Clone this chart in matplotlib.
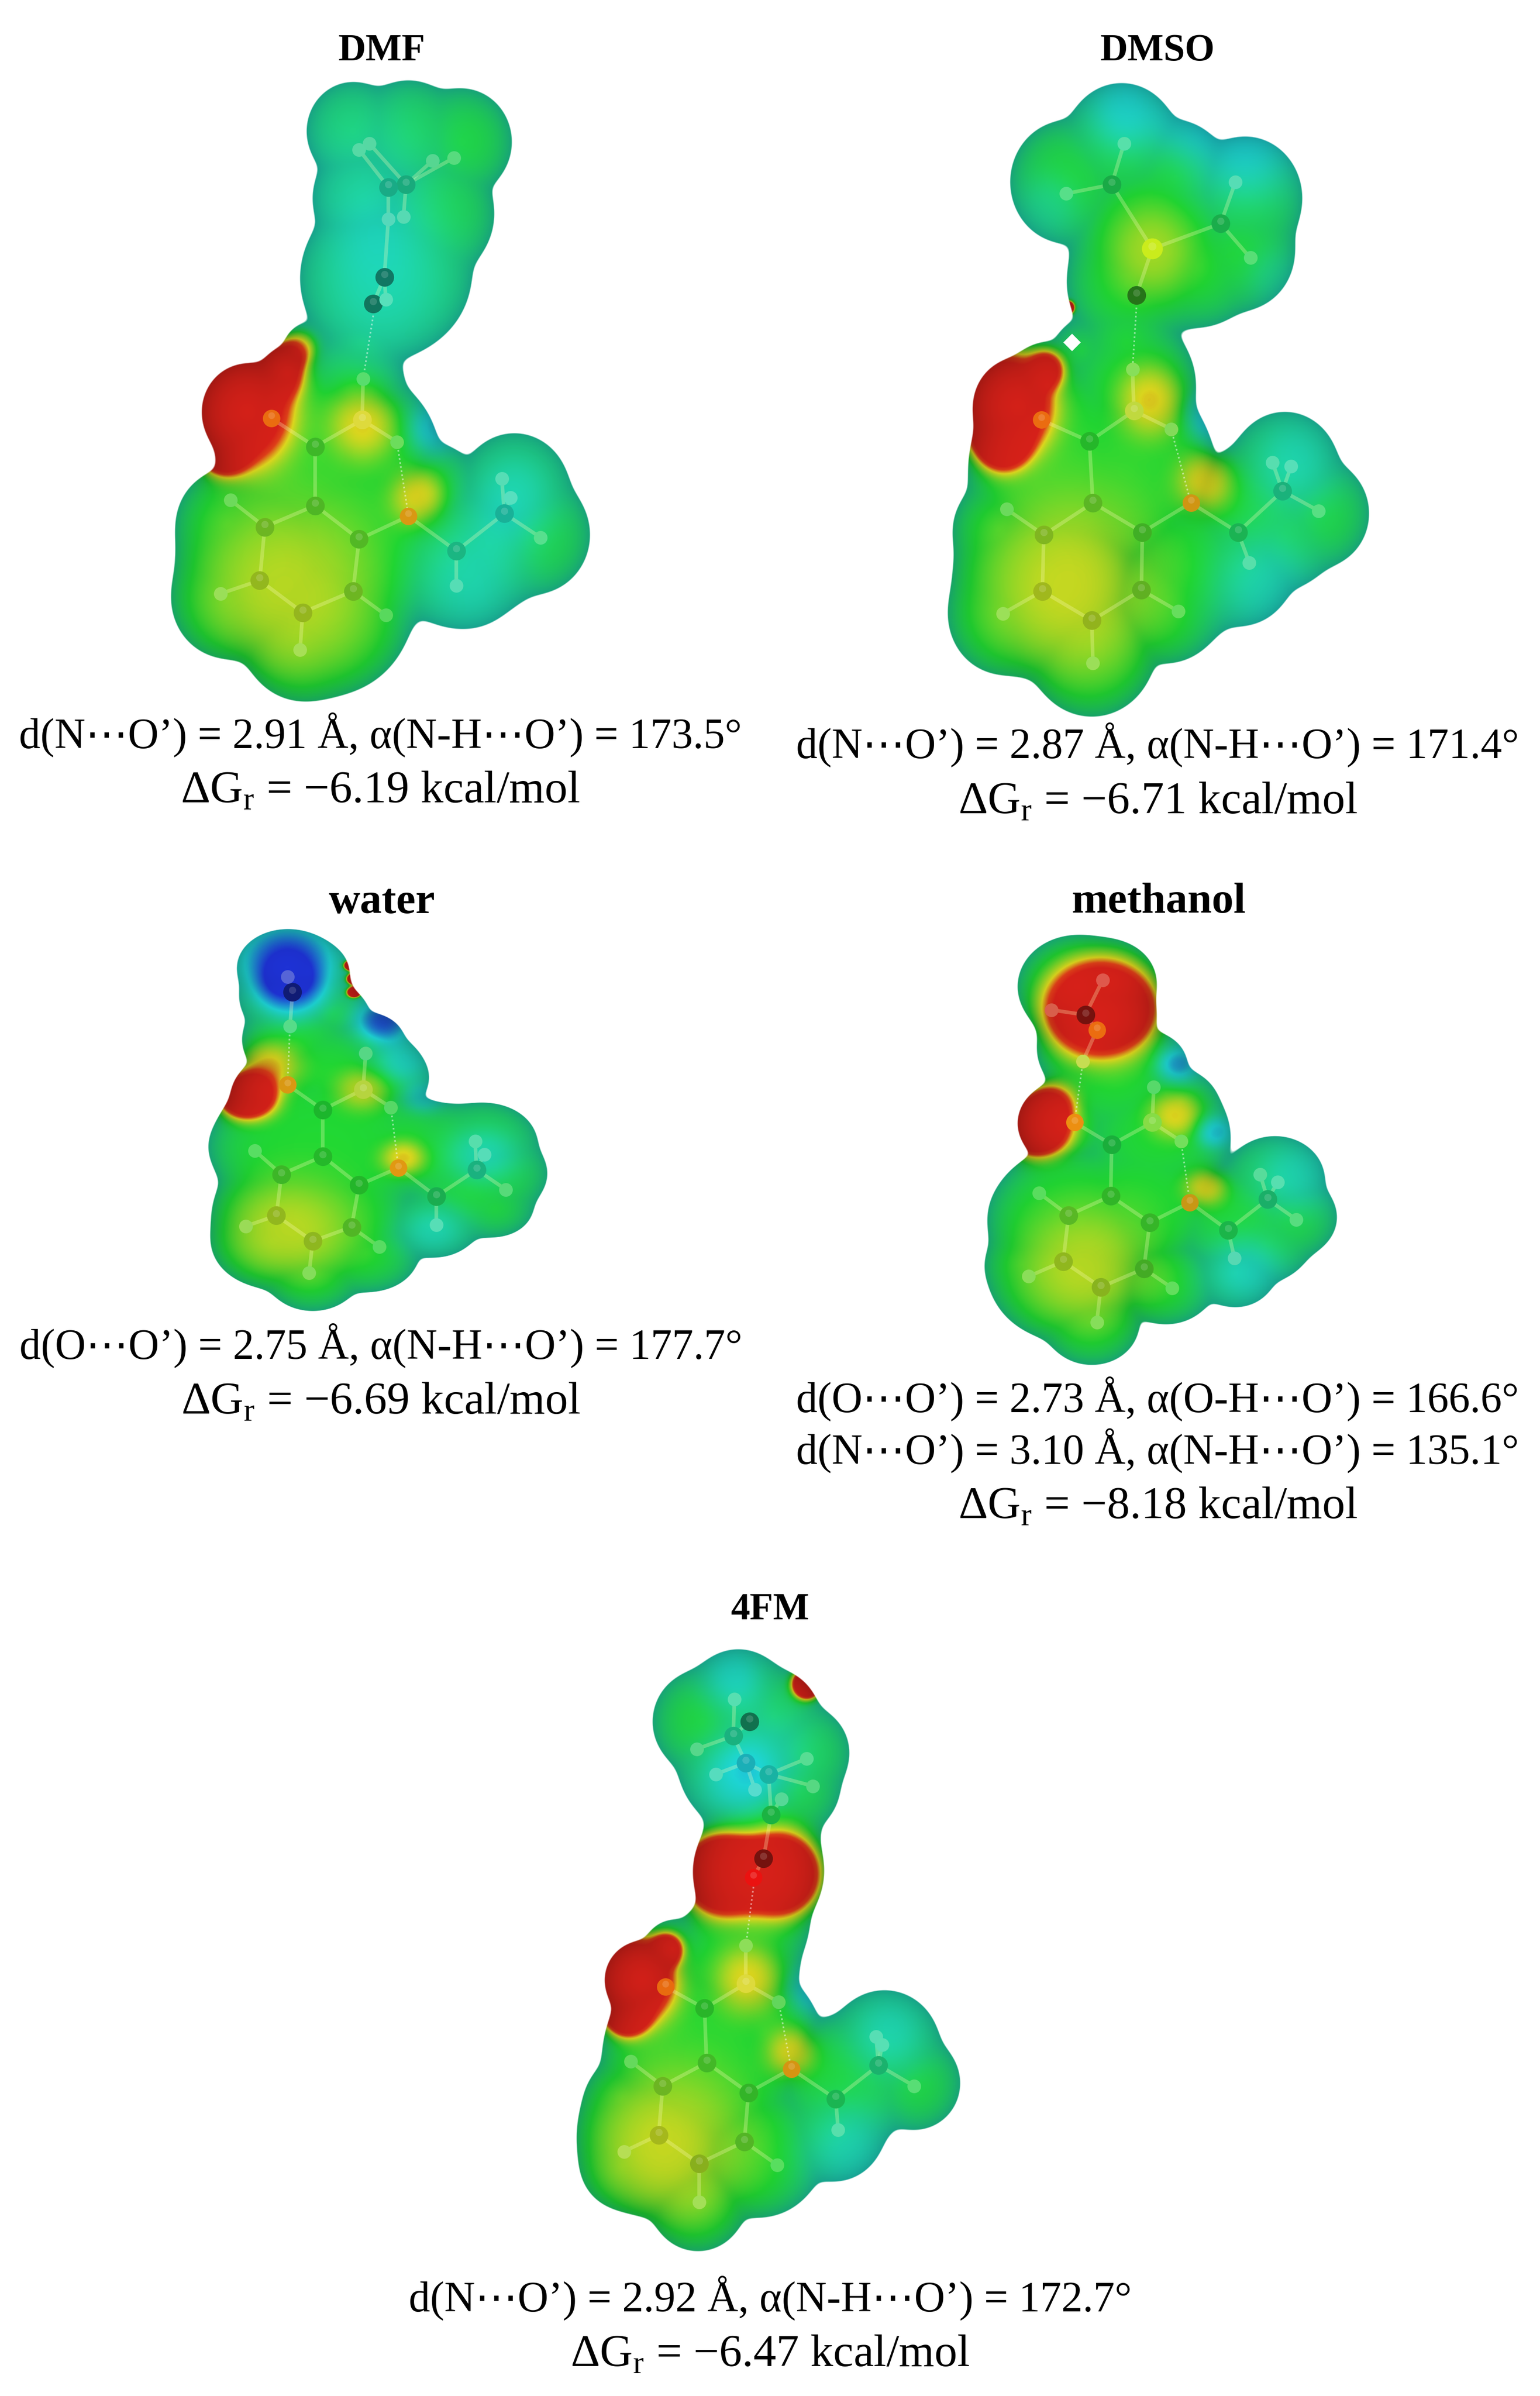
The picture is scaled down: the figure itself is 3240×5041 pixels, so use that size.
import numpy as np
import matplotlib
matplotlib.use("Agg")
import matplotlib.pyplot as plt
from matplotlib.colors import LinearSegmentedColormap

plt.rcParams["font.family"] = ["Liberation Serif", "DejaVu Sans"]
plt.rcParams["mathtext.fontset"] = "custom"
plt.rcParams["mathtext.rm"] = "Liberation Serif"

FIG_W, FIG_H = 3241, 5041
VIEW = 1555  # panel coordinates run 0..1555 on both axes

# panel boxes in pixels: left, top, width, height
dmf_box = (0, 0, 1650, 1750)
dmso_box = (1620, 0, 1620, 1750)
water_box = (0, 1850, 1650, 1250)
methanol_box = (1620, 1850, 1620, 1400)
fm_box = (800, 3350, 1650, 1691)

# surface lobes: x, y, radius
dmf_surface = [(700, 245, 92), (915, 265, 100), (810, 255, 105), (720, 370, 100), (860, 400, 120),
               (790, 510, 145), (750, 520, 155), (720, 640, 70), (700, 720, 100), (490, 770, 90),
               (570, 700, 50), (610, 650, 45), (620, 850, 190), (720, 850, 150), (1020, 920, 110),
               (1060, 1000, 110), (900, 1040, 130), (930, 1070, 100), (970, 1020, 120), (860, 920, 90),
               (540, 1050, 190), (650, 1130, 170), (600, 1190, 120), (450, 1120, 110), (450, 980, 100),
               (700, 1000, 200)]
dmso_surface = [(600, 340, 115), (710, 270, 115), (820, 330, 105), (960, 370, 115), (950, 470, 110),
                (780, 450, 170), (720, 530, 120), (870, 500, 110), (720, 640, 90), (730, 720, 130),
                (500, 760, 90), (560, 720, 80), (630, 655, 55), (600, 880, 200), (720, 880, 180),
                (1040, 880, 110), (1110, 960, 100), (980, 960, 130), (950, 1060, 110), (1040, 1000, 100),
                (850, 1060, 130), (560, 1080, 190), (650, 1210, 130), (470, 1150, 110), (460, 990, 90),
                (800, 1120, 120)]
water_surface = [(570, 230, 100), (610, 240, 80), (575, 310, 100), (620, 300, 75), (660, 350, 70), (590, 420, 110),
                 (560, 560, 100), (650, 500, 130), (730, 420, 70), (760, 480, 70), (760, 520, 90),
                 (640, 700, 220), (800, 700, 130), (960, 690, 105), (980, 770, 105), (880, 720, 130),
                 (930, 810, 120), (860, 900, 90), (620, 880, 200), (540, 950, 120), (620, 1040, 90),
                 (730, 980, 100), (510, 700, 90), (980, 860, 75)]
methanol_surface = [(620, 250, 120), (680, 240, 100), (660, 320, 120), (640, 400, 100), (600, 570, 100),
                    (700, 470, 130), (770, 430, 70), (830, 520, 70), (800, 500, 60), (780, 600, 150),
                    (620, 800, 180), (750, 750, 160), (1020, 700, 100), (1050, 790, 95), (950, 800, 130),
                    (940, 920, 80), (1000, 850, 90), (600, 920, 160), (650, 1040, 95), (800, 940, 100),
                    (520, 780, 60), (510, 900, 70)]
fm_surface = [(640, 250, 100), (710, 210, 100), (780, 240, 90), (840, 310, 90), (720, 330, 130),
              (830, 380, 80), (760, 450, 110), (750, 540, 130), (740, 640, 110), (700, 720, 130),
              (520, 750, 75), (580, 690, 55), (640, 900, 200), (760, 850, 110), (1000, 880, 110),
              (1060, 950, 90), (920, 950, 130), (900, 1040, 100), (550, 1050, 160), (630, 1180, 95),
              (750, 1080, 130), (480, 980, 70), (480, 1110, 80)]

# potential patches: x, y, spread, shift from the neutral green
dmf_potential = [(720, 300, 170, .14), (760, 540, 170, .2), (470, 765, 100, -1.0), (555, 690, 50, -.6),
                 (445, 835, 45, -.8), (595, 650, 35, -.3), (720, 790, 70, -.27), (830, 930, 55, -.27),
                 (570, 1110, 190, -.2), (860, 800, 50, .27), (1020, 920, 100, .2), (930, 1090, 125, .2)]
dmso_potential = [(720, 200, 95, .25), (840, 235, 60, .1), (960, 265, 125, .26), (560, 390, 70, .12),
                  (1020, 520, 60, .1), (770, 470, 90, -.17), (475, 755, 90, -1.0), (470, 825, 50, -.8),
                  (560, 690, 35, -.5), (602, 575, 12, -1.0), (770, 750, 70, -.27), (880, 900, 60, -.28),
                  (610, 1100, 190, -.22), (890, 780, 45, .3), (1060, 860, 100, .2), (1000, 1100, 115, .2)]
water_potential = [(570, 210, 100, .5), (575, 300, 75, .3), (760, 370, 60, .45), (800, 480, 60, .22),
                   (840, 570, 40, .2), (490, 570, 55, -.95), (530, 490, 65, -.3), (720, 550, 55, -.22),
                   (800, 730, 45, -.27), (570, 920, 140, -.2), (960, 720, 80, .2), (860, 920, 75, .2),
                   (695, 225, 14, -1.0), (702, 260, 15, -1.0), (702, 295, 14, -1.0)]
methanol_potential = [(668, 302, 105, -1.1), (540, 580, 65, -1.0), (570, 520, 50, -.4), (820, 550, 55, -.26),
                      (880, 720, 45, -.27), (640, 910, 150, -.2), (825, 430, 45, .35), (900, 590, 40, .3),
                      (1060, 690, 95, .2), (960, 920, 90, .22)]
fm_potential = [(680, 545, 75, -1.1), (790, 545, 75, -1.1), (700, 160, 70, .22), (700, 370, 90, .22),
                (780, 300, 100, .15), (845, 178, 28, -1.0), (500, 750, 80, -1.0), (490, 815, 40, -.8),
                (570, 690, 30, -.6), (730, 750, 70, -.26), (815, 890, 50, -.26), (570, 1080, 170, -.22),
                (860, 770, 45, .28), (1010, 850, 90, .2), (930, 1080, 100, .2)]

# the solute has the same atoms in every panel
core_kinds = "ccccccc" + "on" + "hhhhhh" + "o" + "cc" + "hhhh"
core_bonds = [(0, 1), (1, 2), (2, 3), (3, 4), (4, 5), (5, 6), (6, 1), (0, 7), (0, 8), (8, 9), (8, 10),
              (2, 11), (3, 12), (4, 13), (5, 14), (6, 15), (15, 16), (16, 17), (16, 18), (17, 19),
              (17, 20), (17, 21)]

dmf_core = [(625, 835), (625, 945), (525, 985), (515, 1085), (600, 1145), (700, 1105), (712, 1008),
            (538, 782), (718, 785), (720, 708), (787, 826), (457, 935), (437, 1110), (595, 1215),
            (765, 1150), (810, 965), (905, 1030), (1000, 960), (905, 1095), (1072, 1005), (995, 895),
            (1012, 930)]
dmso_core = [(645, 825), (652, 940), (553, 1000), (550, 1105), (650, 1160), (750, 1103), (752, 995),
             (548, 785), (735, 768), (732, 690), (810, 802), (478, 952), (470, 1147), (652, 1240),
             (825, 1143), (850, 940), (945, 995), (1035, 918), (968, 1052), (1108, 955), (1015, 865),
             (1052, 872)]
water_core = [(640, 603), (640, 725), (558, 772), (548, 880), (620, 947), (697, 910), (712, 800),
              (570, 538), (720, 550), (725, 455), (775, 597), (505, 710), (487, 908), (613, 1030),
              (752, 962), (790, 755), (865, 830), (945, 760), (865, 905), (1003, 812), (942, 685),
              (960, 720)]
methanol_core = [(690, 620), (688, 740), (603, 785), (592, 893), (668, 953), (755, 910), (767, 802),
                 (615, 568), (772, 568), (775, 485), (830, 612), (543, 733), (522, 928), (660, 1035),
                 (812, 955), (848, 755), (925, 820), (1005, 748), (938, 885), (1063, 795), (990, 690),
                 (1025, 708)]
fm_core = [(643, 805), (647, 910), (560, 955), (552, 1050), (632, 1105), (722, 1063), (730, 968),
           (565, 763), (725, 757), (725, 683), (790, 793), (497, 908), (483, 1082), (632, 1180),
           (787, 1108), (815, 922), (903, 980), (988, 915), (908, 1040), (1058, 955), (983, 860),
           (995, 875)]

# solvent atoms, their kinds, their bonds and the dotted hydrogen bonds
dmf_solvent = [(805, 345), (770, 350), (732, 268), (712, 280), (900, 295), (858, 300), (800, 405),
               (770, 410), (762, 518), (740, 568), (765, 560)]
dmf_solvent_kinds = "cchhhhhhddh"
dmf_solvent_bonds = [(0, 2), (1, 3), (0, 4), (0, 5), (0, 6), (1, 7), (7, 8), (8, 9), (8, 10)]
dmf_dots = [((740, 590), (720, 708)), ((787, 826), (810, 965))]

dmso_solvent = [(690, 345), (910, 418), (772, 465), (740, 552), (715, 268), (598, 362), (940, 340), (970, 482)]
dmso_solvent_kinds = "ccsdhhhh"
dmso_solvent_bonds = [(0, 2), (1, 2), (2, 3), (0, 4), (0, 5), (1, 6), (1, 7)]
dmso_dots = [((740, 575), (732, 690)), ((810, 802), (850, 940))]

water_solvent = [(580, 295), (570, 255), (575, 385)]
water_solvent_kinds = "dhh"
water_solvent_bonds = [(0, 1), (0, 2)]
water_dots = [((575, 385), (570, 538)), ((775, 597), (790, 755))]

methanol_solvent = [(637, 317), (660, 352), (672, 235), (568, 305), (632, 425)]
methanol_solvent_kinds = "dohhh"
methanol_solvent_bonds = [(0, 1), (0, 2), (0, 3), (1, 4)]
methanol_dots = [((632, 425), (615, 568)), ((830, 612), (848, 755))]

fm_solvent = [(700, 278), (725, 330), (770, 352), (775, 430), (760, 515), (740, 552), (732, 250),
              (702, 207), (628, 303), (665, 352), (743, 382), (845, 322), (858, 375), (795, 400)]
fm_solvent_kinds = "ccccdrdhhhhhhh"
fm_solvent_bonds = [(0, 7), (0, 8), (0, 6), (0, 1), (1, 9), (1, 2), (2, 11), (2, 12), (2, 3), (1, 10), (3, 13), (3, 4), (4, 5)]
fm_dots = [((740, 570), (725, 683)), ((790, 793), (815, 922))]

# titles and captions
dmf_text = ["d(N\u22efO\u2019) = 2.91 \u00c5, \u03b1(N-H\u22efO\u2019) = 173.5\u00b0", "\u0394G$_{\\mathrm{r}}$ = \u22126.19 kcal/mol"]
dmso_text = ["d(N\u22efO\u2019) = 2.87 \u00c5, \u03b1(N-H\u22efO\u2019) = 171.4\u00b0", "\u0394G$_{\\mathrm{r}}$ = \u22126.71 kcal/mol"]
water_text = ["d(O\u22efO\u2019) = 2.75 \u00c5, \u03b1(N-H\u22efO\u2019) = 177.7\u00b0", "\u0394G$_{\\mathrm{r}}$ = \u22126.69 kcal/mol"]
methanol_text = ["d(O\u22efO\u2019) = 2.73 \u00c5, \u03b1(O-H\u22efO\u2019) = 166.6\u00b0",
                 "d(N\u22efO\u2019) = 3.10 \u00c5, \u03b1(N-H\u22efO\u2019) = 135.1\u00b0",
                 "\u0394G$_{\\mathrm{r}}$ = \u22128.18 kcal/mol"]
fm_text = ["d(N\u22efO\u2019) = 2.92 \u00c5, \u03b1(N-H\u22efO\u2019) = 172.7\u00b0", "\u0394G$_{\\mathrm{r}}$ = \u22126.47 kcal/mol"]

esp_cmap = LinearSegmentedColormap.from_list("esp", [
    (0.0, (0.85, 0.13, 0.10)), (0.12, (0.88, 0.25, 0.10)), (0.25, (0.87, 0.85, 0.12)),
    (0.5, (0.13, 0.85, 0.20)), (0.78, (0.12, 0.85, 0.85)), (1.0, (0.12, 0.20, 0.85))])

atom_sizes = {"h": 430, "c": 800, "n": 800, "o": 700, "d": 800, "s": 1000, "r": 700}
fixed_colors = {"o": (0.95, 0.52, 0.05), "s": (0.85, 0.95, 0.1), "r": (0.95, 0.05, 0.05)}


def surface_image(box, surface, potential):
    nx, ny = box[2], box[3]
    x = np.linspace(0, VIEW, nx, dtype=np.float32)
    y = np.linspace(0, VIEW, ny, dtype=np.float32)
    xx, yy = np.meshgrid(x, y)

    # smooth union of the lobes, depth is roughly the distance inside the edge
    soft = 10.0
    total = np.zeros_like(xx)
    for cx, cy, r in surface:
        d = np.sqrt((xx - cx) ** 2 + (yy - cy) ** 2)
        total += np.exp(np.clip((r - d) / soft, -30, 30))
    depth = soft * np.log(total + 1e-12)

    value = np.full_like(xx, 0.5)
    for cx, cy, spread, shift in potential:
        d = np.sqrt((xx - cx) ** 2 + (yy - cy) ** 2)
        value += shift * np.exp(-(d / spread) ** 2.5)
    value = np.clip(value, 0, 1)

    # edges turn teal and a little darker
    rim = np.exp(-np.clip(depth, 0, None) / 38.0)
    value = value + 0.18 * rim * np.clip((value - 0.1) / 0.3, 0, 1) * np.clip((0.8 - value) / 0.3, 0, 1)
    rgba = esp_cmap(np.clip(value, 0, 1))
    rgba[..., :3] *= (1 - 0.25 * rim)[..., None]
    rgba[..., 3] = np.clip(depth / 2.0 + 0.5, 0, 1)
    return rgba


def atom_color(rgba, x, y, kind):
    # atoms show through the surface, so they take its colour
    row = min(int(y / VIEW * rgba.shape[0]), rgba.shape[0] - 1)
    col = min(int(x / VIEW * rgba.shape[1]), rgba.shape[1] - 1)
    under = np.array(rgba[row, col, :3])
    if kind in fixed_colors:
        return tuple(0.75 * np.array(fixed_colors[kind]) + 0.25 * under)
    if kind == "h":
        return tuple(0.75 * under + 0.25 * np.array([1, 1, 0.9]))
    if kind == "n":
        return tuple(0.85 * under + 0.15 * np.array([1, 1, 0.9]))
    if kind == "d":
        return tuple(0.55 * under)
    return tuple(0.85 * under)


def draw_atoms(ax, rgba, atoms, kinds):
    for (x, y), kind in zip(atoms, kinds):
        ax.scatter([x], [y], s=atom_sizes[kind], color=[atom_color(rgba, x, y, kind)], linewidths=0, zorder=4)
        if kind != "h":
            ax.scatter([x], [y - 5], s=atom_sizes[kind] * 0.15, color=[(1, 1, 1, 0.15)], linewidths=0, zorder=5)


def draw_bonds(ax, atoms, bonds):
    for a, b in bonds:
        ax.plot([atoms[a][0], atoms[b][0]], [atoms[a][1], atoms[b][1]],
                color=(1, 1, 0.75, 0.28), lw=5.5, solid_capstyle="round", zorder=3)


def draw_panel(box, surface, potential, core, solvent, solvent_kinds, solvent_bonds, dots,
               title, title_pos, title_size, text, text_x, baselines):
    left, top, w, h = box
    ax = fig.add_axes([left / FIG_W, 1 - (top + h) / FIG_H, w / FIG_W, h / FIG_H])
    ax.patch.set_alpha(0)
    rgba = surface_image(box, surface, potential)
    ax.imshow(rgba, extent=(0, VIEW, VIEW, 0), aspect="auto", interpolation="nearest", zorder=1)
    draw_bonds(ax, core, core_bonds)
    draw_bonds(ax, solvent, solvent_bonds)
    for p, q in dots:
        ax.plot([p[0], q[0]], [p[1], q[1]], color=(1, 1, 1, 0.5), lw=2.5, ls=(0, (1, 1.5)), zorder=3)
    draw_atoms(ax, rgba, core, core_kinds)
    draw_atoms(ax, rgba, solvent, solvent_kinds)
    ax.text(title_pos[0], title_pos[1], title, ha="center", va="baseline", fontsize=title_size,
            fontweight="bold", color="black", zorder=6)
    for i, (line, base) in enumerate(zip(text, baselines)):
        # the free energy line runs wider than the geometry lines
        size = 69 if i == len(text) - 1 else 64.5
        ax.text(text_x, base, line, ha="center", va="baseline", fontsize=size, color="black", zorder=6)
    ax.set_xlim(0, VIEW)
    ax.set_ylim(VIEW, 0)
    ax.axis("off")
    return ax


fig = plt.figure(figsize=(FIG_W / 100, FIG_H / 100), dpi=100, facecolor="white")

draw_panel(dmf_box, dmf_surface, dmf_potential, dmf_core, dmf_solvent, dmf_solvent_kinds,
           dmf_solvent_bonds, dmf_dots, "DMF", (757, 113), 58, dmf_text, 754, [1398, 1500])
ax_dmso = draw_panel(dmso_box, dmso_surface, dmso_potential, dmso_core, dmso_solvent, dmso_solvent_kinds,
                     dmso_solvent_bonds, dmso_dots, "DMSO", (783, 113), 58, dmso_text, 783, [1417, 1520])
# the small specular glitch beside the neck
ax_dmso.scatter([610], [640], marker="D", s=350, color="white", linewidths=0, zorder=2)
draw_panel(water_box, water_surface, water_potential, water_core, water_solvent, water_solvent_kinds,
           water_solvent_bonds, water_dots, "water", (757, 88), 66, water_text, 755, [1255, 1398])
draw_panel(methanol_box, methanol_surface, methanol_potential, methanol_core, methanol_solvent,
           methanol_solvent_kinds, methanol_solvent_bonds, methanol_dots, "methanol", (785, 78), 66,
           methanol_text, 783, [1245, 1366, 1493])
draw_panel(fm_box, fm_surface, fm_potential, fm_core, fm_solvent, fm_solvent_kinds, fm_solvent_bonds,
           fm_dots, "4FM", (773, 52), 58, fm_text, 773, [1391, 1497])

fig.savefig("out.png", dpi=100, facecolor="white")
